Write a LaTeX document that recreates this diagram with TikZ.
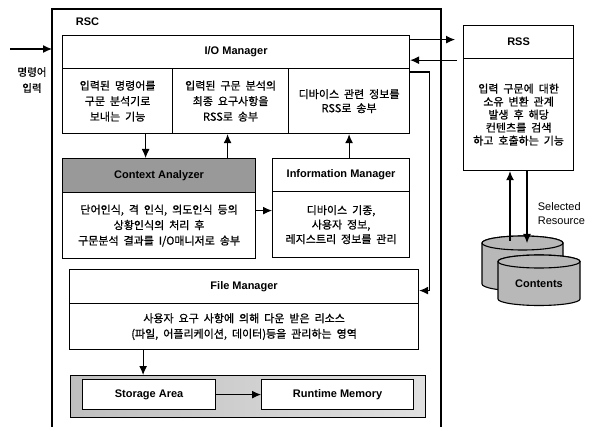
\documentclass[tikz,border=0pt]{standalone}
\usepackage{fontspec}
\setmainfont{Liberation Sans}
\newfontfamily\kr[WordSpace=2,FakeBold=0.8]{Noto Sans CJK KR}
\usetikzlibrary{calc,arrows.meta}
\tikzset{
  box/.style={draw, line width=1.2pt, anchor=north west, inner sep=0pt},
  head/.style={box, font=\bfseries\fontsize{11}{12}\selectfont},
  txt/.style={box, align=center, font=\kr\fontsize{11}{15.5}\selectfont},
  cyl/.style={draw, line width=1.1pt, fill=black!28},
}
\begin{document}
\begin{tikzpicture}[x=1pt,y=-1pt,>={Latex[length=9pt,width=8pt]},line width=1.1pt]
\useasboundingbox (0,0) rectangle (596,427);
% RSC frame
\draw[line width=1.2pt] (52,427) |- (441,9) -- (441,427);
\node[anchor=west, font=\bfseries\fontsize{11}{12}\selectfont] (rsc) at (72,22) {RSC};
% input
\coordinate (cmd) at (10,49);
\coordinate (rscin) at (52,49);
\draw[->] (cmd) -- (rscin);
\node[align=center, font=\kr\fontsize{10.5}{16}\selectfont] (cmdlbl) at (32,80) {명령어\\입력};
% I/O Manager
\node[head, minimum width=347pt, minimum height=33pt] (io) at (62,35) {I/O Manager};
\node[txt, minimum width=110pt, minimum height=65pt] (io1) at (62,68) {입력된 명령어를\\구문 분석기로\\보내는 기능};
\node[txt, minimum width=116pt, minimum height=65pt] (io2) at (172,68) {입력된 구문 분석의\\최종 요구사항을\\RSS로 송부};
\node[txt, minimum width=121pt, minimum height=65pt, font=\kr\fontsize{11}{14}\selectfont] (io3) at (288,68) {디바이스 관련 정보를\\RSS로 송부};
% Context Analyzer
\node[head, fill=black!40, minimum width=193pt, minimum height=34pt] (cahead) at (62,158) {Context Analyzer};
\node[txt, minimum width=193pt, minimum height=66pt] (ca) at (62,192) {단어인식, 격 인식, 의도인식 등의\\상황인식의 처리 후\\구문분석 결과를 I/O매니저로 송부};
% Information Manager
\node[head, minimum width=137pt, minimum height=33pt] (imhead) at (272,158) {Information Manager};
\node[txt, minimum width=137pt, minimum height=66pt, font=\kr\fontsize{11}{14.5}\selectfont] (im) at (272,191) {디바이스 기종,\\사용자 정보,\\레지스트리 정보를 관리};
% File Manager
\node[head, minimum width=349pt, minimum height=34pt] (fmhead) at (69,269) {File Manager};
\node[txt, minimum width=349pt, minimum height=46pt] (fm) at (69,303) {사용자 요구 사항에 의해 다운 받은 리소스\\(파일, 어플리케이션, 데이터)등을 관리하는 영역};
% storage
\node[box, minimum width=355pt, minimum height=42pt, left color=black!25, middle color=black!55, right color=black!12] (store) at (70,375) {};
\node[head, fill=white, minimum width=133pt, minimum height=30pt] (sa) at (82,379) {Storage Area};
\node[head, fill=white, minimum width=152pt, minimum height=30pt] (rm) at (261,379) {Runtime Memory};
% RSS
\node[head, minimum width=110pt, minimum height=33pt] (rsshead) at (463,25) {RSS};
\node[txt, minimum width=110pt, minimum height=112pt, font=\kr\fontsize{11}{13}\selectfont] (rss) at (463,58) {입력 구문에 대한\\소유 변환 관계\\발생 후 해당\\컨텐츠를 검색\\하고 호출하는 기능};
% contents
\path[cyl] (482,243) -- (482,284) arc[start angle=180, end angle=360, x radius=40.5pt, y radius=7pt] -- (563,243) arc[start angle=0, end angle=180, x radius=40.5pt, y radius=7pt] -- cycle;
\draw[cyl] (522.5,243) ellipse[x radius=40.5pt, y radius=7pt];
\path[cyl] (498,261.5) -- (498,299) arc[start angle=180, end angle=360, x radius=41pt, y radius=6.5pt] -- (580,261.5) arc[start angle=0, end angle=180, x radius=41pt, y radius=6.5pt] -- cycle;
\draw[cyl] (539,261.5) ellipse[x radius=41pt, y radius=6.5pt];
\node[font=\bfseries\fontsize{11}{12}\selectfont] (cont) at (539,284) {Contents};
\coordinate (dbup) at (510,241);
\coordinate (dbdown) at (527,243);
\node[anchor=west, align=left, font=\fontsize{11}{14}\selectfont] (sel) at (534,214) {Selected\\Resource};
% connectors
\draw[->] ($(io1.south)+(28,0)$) -- ($(io1.south |- cahead.north)+(28,0)$);
\draw[->] ($(io2.south |- cahead.north)+(-3,0)$) -- ($(io2.south)+(-3,0)$);
\draw[->] ($(ca.east)+(0,-15)$) -- ($(ca.east -| im.west)+(0,-15)$);
\draw[->] (io3.south |- imhead.north) -- (io3.south);
\coordinate (ioout) at ($(io.east)+(0,-12.5)$);
\draw[->, shorten >=8pt] (ioout) -- (ioout -| rsshead.west);
\coordinate (rssback) at ($(rsshead.south west)+(0,1)$);
\draw[->, shorten <=6pt] (rssback) -- (rssback -| io.east);
\coordinate (iofm) at ($(io3.north east)+(0,4)$);
\draw[->] (iofm) -- ++(19pt,0) |- ($(fmhead.east)+(0,4)$);
\draw[->] ($(sa.north |- fm.south)+(-6,0)$) -- ($(sa.north |- store.north)+(-6,0)$);
\draw[->] (sa.east) -- (rm.west);
\draw[->] (dbup) -- (dbup |- rss.south);
\draw[->] (dbdown |- rss.south) -- (dbdown);
\end{tikzpicture}
\end{document}
